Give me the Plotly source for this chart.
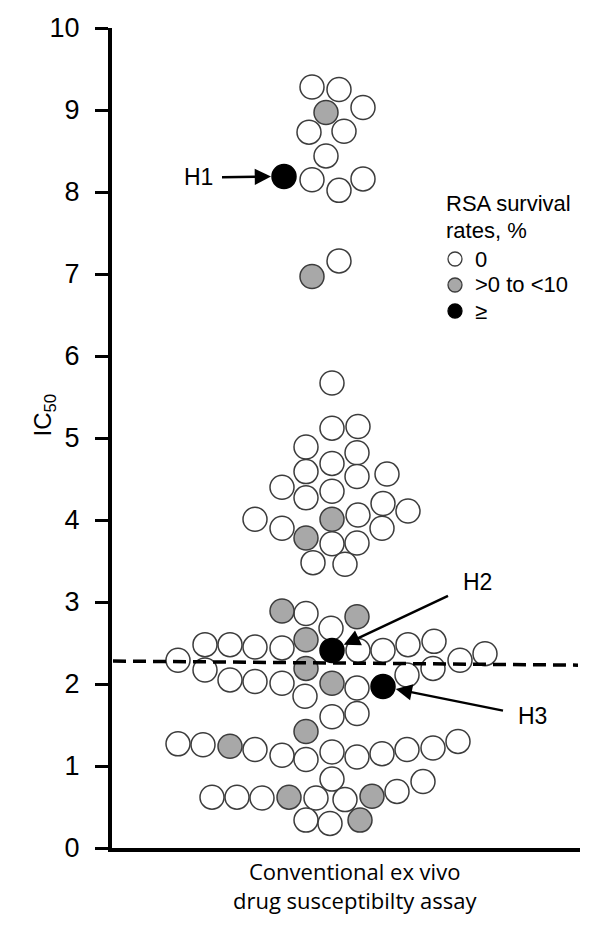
import plotly.graph_objects as go

# ---- data ----
# horizontal swarm offset (arbitrary units, ~px), IC50 value, RSA class (0: 0%, 1: >0 to <10%, 2: >=)
swarm_x = [
    -20, 7, -6, 31, -23, 12, -6, -48, -20, 7, 31, 7, -20,
    0, 0, 26, -26, 25, 0, -26, 25, 55, -50, -26, 0, 51, 76, -77, 0, 26, -50, 50, -26, 0, 25, -19, 13,
    -50, -26, 25, -1, -26, 0, -127, -102, -77, -50, 26, 51, 76, 102, -154, 128, 153,
    -127, -102, -77, -50, -26, 0, 25, 51, 75, 101, -27, 0, 25, -26,
    -154, -129, -102, -77, -50, -26, 0, 25, 50, 75, 101, 126, 0,
    -120, -95, -70, -43, -16, 13, 40, 65, 91, -26, -2, 28,
]
ic50 = [
    9.28, 9.25, 8.97, 9.03, 8.73, 8.74, 8.44, 8.19, 8.15, 8.02, 8.16, 7.16, 6.97,
    5.67, 5.12, 5.14, 4.89, 4.82, 4.69, 4.59, 4.53, 4.56, 4.40, 4.27, 4.35, 4.20, 4.11, 4.01, 4.01, 4.06,
    3.90, 3.90, 3.78, 3.71, 3.72, 3.48, 3.46,
    2.89, 2.86, 2.82, 2.68, 2.54, 2.41, 2.48, 2.48, 2.45, 2.44, 2.41, 2.41, 2.48, 2.52, 2.29, 2.29, 2.37,
    2.17, 2.05, 2.03, 2.01, 2.19, 2.01, 1.95, 1.97, 2.11, 2.19, 1.85, 1.60, 1.64, 1.42,
    1.27, 1.26, 1.24, 1.20, 1.13, 1.08, 1.17, 1.11, 1.15, 1.20, 1.22, 1.30, 0.84,
    0.62, 0.62, 0.61, 0.62, 0.61, 0.59, 0.63, 0.69, 0.81, 0.34, 0.30, 0.34,
]
rsa_class = [
    0, 0, 1, 0, 0, 0, 0, 2, 0, 0, 0, 0, 1,
    0, 0, 0, 0, 0, 0, 0, 0, 0, 0, 0, 0, 0, 0, 0, 1, 0, 0, 0, 1, 0, 0, 0, 0,
    1, 0, 1, 0, 1, 2, 0, 0, 0, 0, 0, 0, 0, 0, 0, 0, 0,
    0, 0, 0, 0, 1, 1, 0, 2, 0, 0, 0, 0, 0, 1,
    0, 0, 1, 0, 0, 0, 0, 0, 0, 0, 0, 0, 0,
    0, 0, 0, 1, 0, 0, 1, 0, 0, 0, 0, 1,
]
class_names = ["0", ">0 to <10", "≥"]
class_fill = ["#ffffff", "#a8a8a8", "#000000"]
class_line = ["#3c3c3c", "#3c3c3c", "#000000"]
legend_title = ["RSA survival", "rates, %"]

highlight_labels = ["H1", "H2", "H3"]
threshold = [2.28, 2.23]          # dashed reference line (left, right)
y_ticks = list(range(0, 11))

ARIAL = "Arial, Liberation Sans, sans-serif"

# page geometry helpers (plot area spans page px 112..580 horizontally, 28..848 vertically)
PX0, PX1, PY0, PY1 = 112, 580, 28, 848
def px(x):
    return (x - PX0) / (PX1 - PX0)
def py(y):
    return (PY1 - y) / (PY1 - PY0)

# ---- figure ----
fig = go.Figure()
for c, name in enumerate(class_names):
    xs = [x for x, k in zip(swarm_x, rsa_class) if k == c]
    ys = [y for y, k in zip(ic50, rsa_class) if k == c]
    fig.add_trace(go.Scatter(
        x=xs, y=ys, mode="markers", name=name, showlegend=False,
        marker=dict(size=24, color=class_fill[c],
                    line=dict(color=class_line[c], width=1.5)),
        cliponaxis=False,
    ))

# dashed threshold line
fig.add_shape(type="line", xref="x", yref="y",
              x0=-219, x1=246, y0=threshold[0], y1=threshold[1],
              line=dict(color="black", width=3.5, dash="13px,7px"))

# highlighted isolates (black points): label + arrow pointing at the point
black_idx = [i for i, k in enumerate(rsa_class) if k == 2]
black_idx.sort(key=lambda i: -ic50[i])  # H1 top, H2, H3
label_offset = [(-86, 1), (145, -68), (149, 30)]   # text centre relative to point, px
label_pad = [9, 14, 14]
for lab, i, (ax, ay), pad in zip(highlight_labels, black_idx, label_offset, label_pad):
    fig.add_annotation(x=swarm_x[i], y=ic50[i], xref="x", yref="y",
                       text=lab, showarrow=True, ax=ax, ay=ay,
                       arrowhead=2, arrowsize=1.3, arrowwidth=2.5,
                       arrowcolor="black", standoff=13, borderpad=pad,
                       font=dict(family=ARIAL, size=23, color="black"))

# manual legend
for line_txt, yy in zip(legend_title, [204, 230]):
    fig.add_annotation(xref="paper", yref="paper", x=px(444), y=py(yy),
                       xanchor="left", yanchor="middle", text=line_txt,
                       showarrow=False, font=dict(family=ARIAL, size=22, color="black"))
for c, name in enumerate(class_names):
    yy = 259 + 26 * c
    fig.add_shape(type="circle", xref="paper", yref="paper",
                  xsizemode="pixel", ysizemode="pixel",
                  xanchor=px(455), yanchor=py(yy), x0=-7, x1=7, y0=-7, y1=7,
                  fillcolor=class_fill[c], line=dict(color=class_line[c], width=1.3))
    fig.add_annotation(xref="paper", yref="paper", x=px(473), y=py(yy),
                       xanchor="left", yanchor="middle", text=name,
                       showarrow=False, font=dict(family=ARIAL, size=22, color="black"))

# y-axis title
fig.add_annotation(xref="paper", yref="paper", x=px(26), y=py(415),
                   text="IC<sub>50</sub>", textangle=-90, showarrow=False,
                   font=dict(family=ARIAL, size=24, color="black"))

# x-axis label
fig.add_annotation(xref="paper", yref="paper", x=px(355), y=py(885),
                   text="Conventional ex vivo<br>drug susceptibilty assay",
                   showarrow=False, yanchor="middle",
                   font=dict(family="Open Sans, sans-serif", size=22, color="black"))

# the page body adds an 8px offset; margins compensate for it
fig.update_layout(
    width=600, height=931,
    margin=dict(l=PX0 - 8, r=600 - (PX1 - 8), t=PY0 - 8, b=931 - (PY1 - 8),
                autoexpand=False),
    paper_bgcolor="white", plot_bgcolor="white",
    showlegend=False,
    xaxis=dict(range=[-220, 248], showgrid=False, zeroline=False,
               showline=True, linewidth=4, linecolor="black",
               showticklabels=False, ticks="", fixedrange=True,
               automargin=False),
    yaxis=dict(range=[0, 10], tickvals=y_ticks, showgrid=False, zeroline=False,
               showline=True, linewidth=4, linecolor="black",
               ticks="outside", ticklen=13, tickwidth=3, tickcolor="black",
               ticklabelstandoff=10, automargin=False, ticklabeloverflow="allow",
               tickfont=dict(family=ARIAL, size=27, color="black")),
)

fig.write_html("out.html")
